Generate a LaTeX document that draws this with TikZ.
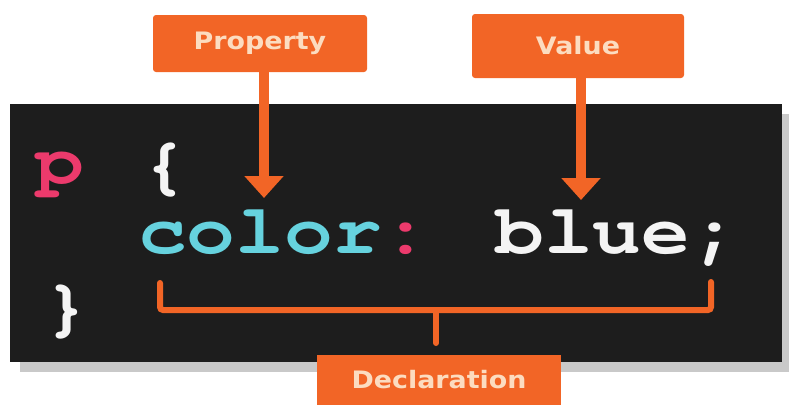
\documentclass[tikz,border=0pt]{standalone}
\usepackage{fontspec}
\setmainfont{DejaVu Sans}
\newfontfamily\codefont{TeX Gyre Cursor}[BoldFont={TeX Gyre Cursor Bold}]
\usetikzlibrary{arrows.meta}
\definecolor{orng}{HTML}{F26526}
\definecolor{cream}{HTML}{FCDCC0}
\definecolor{darkbg}{HTML}{1D1D1D}
\definecolor{codecyan}{HTML}{66D2DE}
\definecolor{codepink}{HTML}{EC3A6C}
\definecolor{codewhite}{HTML}{F4F4F4}
\definecolor{shadowgray}{HTML}{C9C9C9}
\tikzset{
  labelbox/.style={fill=orng, rounded corners=3pt, inner sep=0pt, text=cream,
    font=\fontsize{24}{24}\selectfont\bfseries},
  code/.style={inner sep=0pt, xscale=1.16, font=\codefont\bfseries\fontsize{70}{70}\selectfont},
  pointer/.style={draw=orng, line width=10pt, -{Triangle[width=38pt,length=22pt]}},
  bracket/.style={draw=orng, line width=6pt, rounded corners=3pt, line cap=round},
}
\begin{document}
\begin{tikzpicture}[x=1pt,y=-1pt]
\useasboundingbox (0,0) rectangle (789,405);
% shadow and code panel
\fill[shadowgray] (20,114) rectangle (789,372);
\fill[darkbg] (10,104) rectangle (782,362);
% code text
\node[code, anchor=base west, text=codepink] (p) at (35,183) {p};
\node[code, anchor=center, text=codewhite] (lbrace) at (165,170) {\{};
\node[code, anchor=base west] (decl) at (138,253)
  {{\color{codecyan}color}{\color{codepink}:} {\color{codewhite}blue;}};
\node[code, anchor=center, text=codewhite] (rbrace) at (67,312) {\}};
% label boxes
\node[labelbox, minimum width=214pt, minimum height=57pt] (prop) at (260,43.5) {\scalebox{1.12}[1]{Property}};
\node[labelbox, minimum width=212pt, minimum height=64pt] (val) at (578,46) {\scalebox{1.12}[1]{Value}};
\node[labelbox, rounded corners=0pt, minimum width=244pt, minimum height=50pt] (dcl) at (439,380) {\scalebox{1.12}[1]{Declaration}};
% arrows
\coordinate (ptip) at (264,198);
\coordinate (vtip) at (581,200);
\draw[pointer] (prop.south -| ptip) -- (ptip);
\draw[pointer] (val.south -| vtip) -- (vtip);
% bracket
\coordinate (bl) at (160,283);
\coordinate (br) at (711,282);
\coordinate (bm) at (436,310);
\coordinate (bs) at (436,343);
\draw[bracket] (bl) -- (bl |- bm) -- (br |- bm) -- (br);
\draw[bracket] (bm) -- (bs);
\end{tikzpicture}
\end{document}
